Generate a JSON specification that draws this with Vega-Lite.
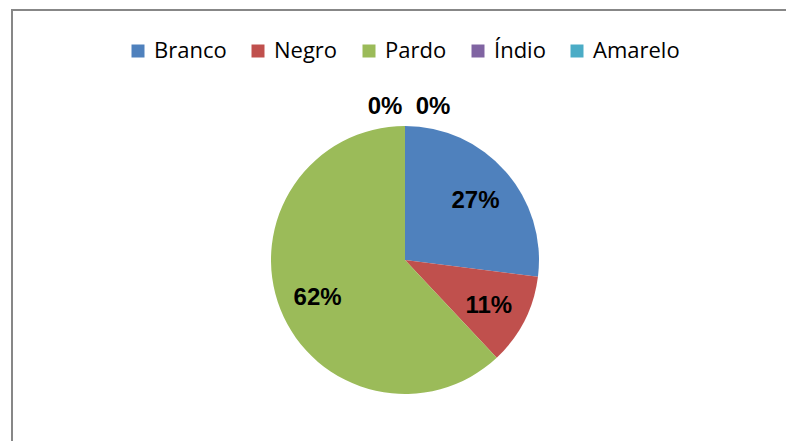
{
  "$schema": "https://vega.github.io/schema/vega-lite/v6.json",
  "width": 786,
  "height": 500,
  "autosize": {"type": "none"},
  "padding": {"left": 12, "top": 10, "right": -12, "bottom": -69},
  "background": "white",
  "data": {"values": [
    {"cor": "Branco", "pct": 0.27, "ord": 1},
    {"cor": "Negro", "pct": 0.11, "ord": 2},
    {"cor": "Pardo", "pct": 0.62, "ord": 3},
    {"cor": "Índio", "pct": 0, "ord": 4},
    {"cor": "Amarelo", "pct": 0, "ord": 5}
  ]},
  "layer": [
    {
      "data": {"values": [{"frame": 1}]},
      "mark": {"type": "rect", "x": 0, "y": 0, "x2": {"expr": "width + 60"}, "y2": {"expr": "height + 60"}, "filled": false, "stroke": "#878787", "strokeWidth": 2},
      "encoding": {}
    },
    {
      "mark": {"type": "arc", "outerRadius": 134},
      "encoding": {
        "theta": {"field": "pct", "type": "quantitative", "stack": true},
        "order": {"field": "ord", "type": "quantitative"},
        "color": {
          "field": "cor", "type": "nominal",
          "scale": {"domain": ["Branco", "Negro", "Pardo", "Índio", "Amarelo"], "range": ["#4F81BD", "#C0504D", "#9BBB59", "#8064A2", "#4BACC6"]},
          "legend": {
            "orient": "none", "legendX": 115, "legendY": 30, "direction": "horizontal", "columns": 5,
            "title": null, "symbolType": "square", "symbolSize": 169, "symbolStrokeWidth": 0,
            "labelFont": "Open Sans", "labelFontSize": 22, "labelColor": "black", "labelOffset": 5,
            "columnPadding": 20, "labelLimit": 0
          }
        }
      }
    },
    {
      "transform": [{"filter": "datum.pct > 0"}],
      "mark": {"type": "text", "radius": 94, "dy": 3, "font": "Liberation Sans", "fontWeight": "bold", "fontSize": 24},
      "encoding": {
        "theta": {"field": "pct", "type": "quantitative", "stack": true},
        "order": {"field": "ord", "type": "quantitative"},
        "detail": {"field": "cor", "type": "nominal"},
        "color": {"value": "black"},
        "text": {"field": "pct", "type": "quantitative", "format": ".0%"}
      }
    },
    {
      "transform": [{"filter": "datum.cor == 'Índio'"}],
      "mark": {"type": "text", "radius": 153, "dx": -20, "font": "Liberation Sans", "fontWeight": "bold", "fontSize": 24},
      "encoding": {
        "theta": {"field": "pct", "type": "quantitative", "stack": true},
        "color": {"value": "black"},
        "text": {"field": "pct", "type": "quantitative", "format": ".0%"}
      }
    },
    {
      "transform": [{"filter": "datum.cor == 'Amarelo'"}],
      "mark": {"type": "text", "radius": 153, "dx": 28, "font": "Liberation Sans", "fontWeight": "bold", "fontSize": 24},
      "encoding": {
        "theta": {"field": "pct", "type": "quantitative", "stack": true},
        "color": {"value": "black"},
        "text": {"field": "pct", "type": "quantitative", "format": ".0%"}
      }
    }
  ]
}
